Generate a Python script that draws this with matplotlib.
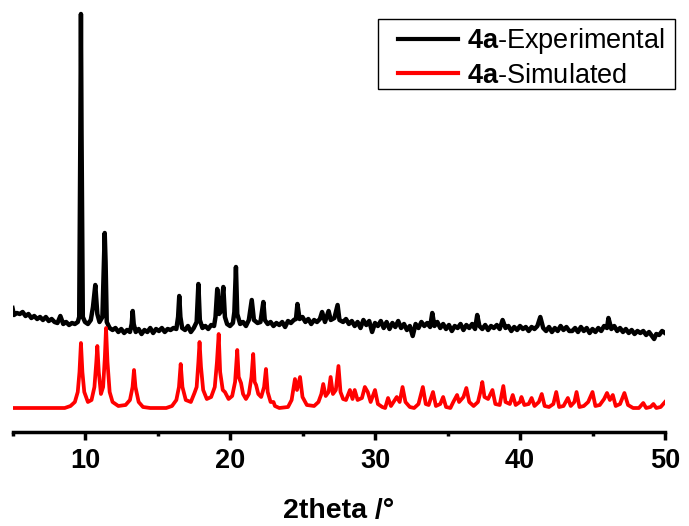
import matplotlib
matplotlib.use("Agg")
import matplotlib.pyplot as plt
from matplotlib.patches import Rectangle

plt.rcParams['font.family'] = ['Liberation Sans', 'DejaVu Sans']
plt.rcParams['mathtext.fontset'] = 'custom'
plt.rcParams['mathtext.rm'] = 'Liberation Sans'
plt.rcParams['mathtext.bf'] = 'Liberation Sans:bold'

# experimental pattern (2theta, intensity a.u.)
exp_x = [5.0, 5.1, 5.3, 5.5, 5.7, 5.9, 6.1, 6.3, 6.5, 6.7, 6.9, 7.1, 7.3, 7.5, 7.7, 7.9,
         8.1, 8.3, 8.5, 8.7, 8.9, 9.1, 9.3, 9.5, 9.6, 9.68, 9.72, 9.76, 9.85, 10.0, 10.2,
         10.4, 10.55, 10.71, 10.85, 11.0, 11.2, 11.3, 11.36, 11.42, 11.5, 11.7, 11.9, 12.1,
         12.3, 12.5, 12.7, 12.9, 13.1, 13.22, 13.29, 13.36, 13.5, 13.7, 13.9, 14.1, 14.3,
         14.5, 14.7, 14.9, 15.1, 15.3, 15.5, 15.7, 15.9, 16.1, 16.3, 16.42, 16.5, 16.58,
         16.7, 16.9, 17.1, 17.3, 17.5, 17.7, 17.82, 17.92, 18.1, 18.3, 18.5, 18.7, 18.9,
         19.0, 19.12, 19.25, 19.35, 19.54, 19.65, 19.8, 20.0, 20.2, 20.3, 20.41, 20.5,
         20.7, 20.9, 21.1, 21.3, 21.5, 21.65, 21.9, 22.1, 22.3, 22.4, 22.6, 22.8, 23.0,
         23.2, 23.4, 23.6, 23.8, 24.0, 24.2, 24.4, 24.55, 24.65, 24.8, 25.0, 25.2, 25.4,
         25.6, 25.8, 26.0, 26.2, 26.35, 26.55, 26.8, 26.95, 27.2, 27.42, 27.55, 27.8, 28.0,
         28.2, 28.4, 28.6, 28.8, 29.0, 29.2, 29.4, 29.6, 29.8, 30.0, 30.2, 30.4, 30.6,
         30.8, 31.0, 31.2, 31.4, 31.6, 31.8, 32.0, 32.2, 32.4, 32.6, 32.8, 33.0, 33.2,
         33.4, 33.6, 33.8, 33.95, 34.1, 34.3, 34.5, 34.7, 34.9, 35.1, 35.3, 35.5, 35.7,
         35.9, 36.1, 36.3, 36.5, 36.7, 36.9, 37.05, 37.2, 37.4, 37.6, 37.8, 38.0, 38.2,
         38.4, 38.6, 38.8, 39.0, 39.2, 39.4, 39.6, 39.8, 40.0, 40.2, 40.4, 40.6, 40.8,
         41.0, 41.2, 41.4, 41.6, 41.8, 42.0, 42.2, 42.4, 42.6, 42.8, 43.0, 43.2, 43.4,
         43.6, 43.8, 44.0, 44.2, 44.4, 44.6, 44.8, 45.0, 45.2, 45.4, 45.6, 45.8, 46.0,
         46.1, 46.3, 46.5, 46.7, 46.9, 47.1, 47.3, 47.5, 47.7, 47.9, 48.1, 48.3, 48.5,
         48.7, 48.9, 49.1, 49.25, 49.4, 49.6, 49.8, 50.0]
exp_y = [124, 117, 119, 118, 120, 116, 118, 114, 116, 113, 115, 112, 115, 111, 113, 110,
         109, 116, 108, 110, 107, 109, 108, 110, 115, 300, 418, 300, 115, 110, 108,
         112, 125, 147, 118, 110, 115, 170, 199, 170, 110, 104, 102, 104,
         100, 103, 99, 102, 100, 108, 121, 108, 100, 103, 98, 102, 100,
         104, 99, 103, 101, 104, 100, 103, 102, 104, 103, 115, 136, 115,
         104, 102, 106, 100, 104, 110, 148, 112, 104, 106, 103, 107, 106,
         115, 143, 118, 120, 145, 115, 108, 106, 109, 120, 165, 118,
         108, 110, 106, 112, 132, 112, 109, 110, 130, 112, 108, 110, 106,
         109, 107, 110, 105, 111, 109, 112, 113, 128, 113, 115, 110, 113,
         108, 112, 110, 113, 120, 110, 121, 112, 114, 127, 112, 110, 113,
         108, 111, 106, 110, 104, 112, 107, 111, 100, 109, 106, 111, 104,
         110, 103, 109, 105, 111, 104, 108, 102, 106, 96, 108, 104, 110,
         106, 109, 105, 119, 106, 110, 104, 108, 103, 107, 101, 106, 104,
         108, 102, 107, 104, 108, 103, 117, 106, 103, 107, 102, 106, 104,
         107, 103, 112, 104, 106, 101, 105, 102, 106, 103, 105, 101, 105,
         103, 106, 115, 104, 101, 105, 100, 104, 101, 106, 102, 105, 101,
         101, 104, 100, 105, 101, 104, 99, 103, 100, 104, 101, 106, 104,
         114, 103, 106, 101, 104, 100, 103, 99, 102, 98, 101, 99, 101,
         97, 100, 96, 93, 98, 97, 101, 99]

# simulated pattern
sim_x = [5.0, 8.6, 9.0, 9.3, 9.5, 9.62, 9.72, 9.82, 9.95, 10.2, 10.45, 10.65, 10.78, 10.85,
         10.95, 11.1, 11.25, 11.37, 11.45, 11.55, 11.7, 11.9, 12.3, 12.8, 13.1, 13.28, 13.38,
         13.48, 13.7, 14.0, 14.5, 15.6, 16.0, 16.3, 16.48, 16.6, 16.72, 16.95, 17.3, 17.55,
         17.7, 17.82, 17.9, 18.0, 18.15, 18.4, 18.7, 18.95, 19.1, 19.22, 19.32, 19.5, 19.65,
         19.9, 20.15, 20.35, 20.5, 20.6, 20.76, 20.9, 21.1, 21.3, 21.48, 21.6, 21.7, 21.8,
         21.95, 22.15, 22.35, 22.48, 22.6, 22.8, 23.0, 23.1, 23.4, 24.0, 24.25, 24.48, 24.62,
         24.83, 25.0, 25.3, 25.8, 26.1, 26.3, 26.43, 26.6, 26.8, 26.94, 27.1, 27.3, 27.48,
         27.62, 27.8, 28.0, 28.27, 28.45, 28.6, 28.8, 29.1, 29.3, 29.5, 29.7, 30.0, 30.2,
         30.5, 30.7, 30.9, 31.1, 31.5, 31.7, 31.9, 32.1, 32.4, 32.7, 33.0, 33.3, 33.5, 33.7,
         34.0, 34.2, 34.5, 34.7, 34.9, 35.2, 35.4, 35.66, 35.8, 36.1, 36.3, 36.5, 36.8,
         37.1, 37.3, 37.4, 37.55, 37.8, 38.1, 38.3, 38.6, 38.85, 39.0, 39.3, 39.5, 39.7,
         40.0, 40.1, 40.3, 40.6, 40.8, 41.0, 41.3, 41.5, 41.7, 42.0, 42.3, 42.5, 42.7, 43.0,
         43.3, 43.5, 43.75, 43.9, 44.1, 44.4, 44.7, 45.0, 45.2, 45.5, 45.8, 46.0, 46.2,
         46.4, 46.6, 46.9, 47.2, 47.45, 47.8, 48.2, 48.5, 48.7, 49.0, 49.2, 49.4, 49.7, 50.0]
sim_y = [24, 24, 26, 30, 40, 60, 89, 60, 40, 30, 32, 45, 70, 86,
         60, 38, 45, 75, 104, 70, 40, 30, 26, 27, 32, 45, 62,
         45, 30, 25, 24, 24, 26, 32, 45, 68, 45, 32, 30, 39,
         45, 70, 90, 65, 42, 33, 35, 45, 70, 98, 60, 42, 40,
         33, 36, 50, 82, 55, 49, 38, 33, 38, 55, 78, 50, 47,
         38, 35, 45, 63, 40, 30, 30, 26, 24, 25, 32, 53, 42,
         55, 35, 27, 26, 30, 38, 48, 36, 40, 55, 38, 42, 66,
         40, 33, 32, 42, 33, 42, 32, 34, 45, 40, 30, 42, 28,
         25, 24, 34, 26, 35, 30, 45, 30, 25, 24, 28, 45, 28, 27,
         40, 26, 28, 35, 25, 24, 30, 37, 30, 35, 44, 30, 26,
         30, 42, 50, 35, 33, 42, 28, 27, 46, 30, 28, 37, 27,
         30, 35, 27, 28, 34, 26, 30, 38, 26, 25, 28, 40, 25, 26,
         34, 26, 30, 40, 25, 26, 30, 40, 26, 27, 33, 39, 32,
         37, 26, 28, 39, 27, 24, 24, 29, 24, 25, 28, 24, 25, 30]

fig = plt.figure(figsize=(6.89, 5.26), dpi=100)
ax = fig.add_axes([12.5 / 689, 94 / 526, 652.5 / 689, 427 / 526])

ax.plot(exp_x, exp_y, color='black', linewidth=3.2, label=r'$\mathbf{4a}$-Experimental',
        solid_joinstyle='round')
ax.plot(sim_x, sim_y, color='red', linewidth=2.7, label=r'$\mathbf{4a}$-Simulated',
        solid_joinstyle='round')

ax.set_xlim(5, 50)
ax.set_ylim(0, 427)

for s in ['top', 'right', 'left']:
    ax.spines[s].set_visible(False)
ax.spines['bottom'].set_linewidth(2.5)

ax.set_xticks([10, 20, 30, 40, 50])
ax.set_xticks([5, 15, 25, 35, 45], minor=True)
ax.set_yticks([])
ax.tick_params(axis='x', which='major', direction='out', length=6, width=2.5,
               labelsize=19.5, pad=5.5)
ax.tick_params(axis='x', which='minor', direction='out', length=3, width=2.5)
for lbl in ax.get_xticklabels():
    lbl.set_fontweight('bold')

ax.set_xlabel('2theta /°', fontsize=20.5, fontweight='bold', labelpad=17)

# legend without its own frame; box drawn separately (wider left margin)
leg = ax.legend(loc='upper left', bbox_to_anchor=(398 / 689, 1 - 26 / 526),
                bbox_transform=fig.transFigure, fontsize=19.5, frameon=False,
                handlelength=2.2, borderpad=0, labelspacing=0.25,
                handletextpad=0.33, borderaxespad=0)
for line in leg.get_lines():
    line.set_linewidth(3.0)
fig.add_artist(Rectangle((378 / 689, 1 - 89 / 526), 297 / 689, 70 / 526,
                         transform=fig.transFigure, fill=False,
                         edgecolor='black', linewidth=1.0))

fig.savefig('out.png', dpi=100)
